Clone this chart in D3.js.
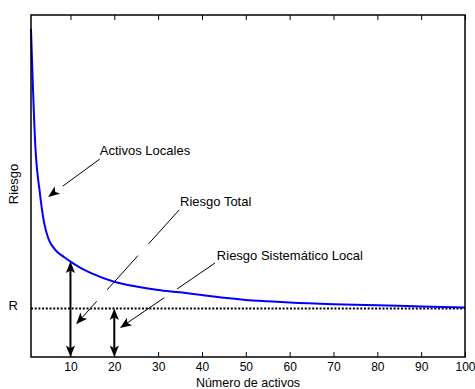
<!DOCTYPE html>
<html>
<head>
<meta charset="utf-8">
<script src="https://cdn.jsdelivr.net/npm/d3@7"></script>
<style>
  body { margin: 0; background: #fff; }
  svg { display: block; font-family: "Liberation Sans", Arial, sans-serif; }
</style>
</head>
<body>
<svg id="chart" width="475" height="389"></svg>
<script>
// number of assets and the risk
const nAssets = [1, 2, 3, 4, 5, 6, 7, 8, 9, 10, 12, 15, 20, 25, 30, 35, 40, 45, 50, 55, 60, 70, 80, 90, 100];
const riskVals = [95.9, 61.4, 48.2, 39.2, 34.5, 32.2, 30.7, 29.7, 28.8, 27.9, 26.3, 24.4, 22.0, 20.6, 19.6, 18.9, 18.1, 17.3, 16.7, 16.3, 15.95, 15.45, 15.1, 14.8, 14.5];
const systematicRisk = 14.2;
const xTicks = [10, 20, 30, 40, 50, 60, 70, 80, 90, 100];

// double arrows (n, top value)
const measureN = [10, 20];
const measureTop = [27.9, systematicRisk];

// annotations: label, label anchor (n, risk), leader start, arrow tip
const annLabels = ['Activos Locales', 'Riesgo Total', 'Riesgo Sistemático Local'];
const annText = [[16.7, 60.3], [35.0, 45.4], [43.4, 29.8]];
const annFrom = [[16.7, 57.9], [34.8, 43.0], [43.0, 27.5]];
const annTip = [[4.9, 46.8], [11.3, 9.6], [21.3, 8.5]];

const svg = d3.select('#chart'),
  margin = {top: 15, right: 10, bottom: 32, left: 31},
  width = +svg.attr('width') - margin.left - margin.right,
  height = +svg.attr('height') - margin.top - margin.bottom,
  g = svg.append('g').attr('transform', 'translate(' + margin.left + ',' + margin.top + ')');

const x = d3.scaleLinear().domain([1, 100]).range([0, width]);
const y = d3.scaleLinear().domain([0, 100]).range([height, 0]);

// dotted systematic risk line
g.append('path')
  .datum([1, 100])
  .attr('fill', 'none')
  .attr('stroke', '#000')
  .attr('stroke-width', 2)
  .attr('stroke-dasharray', '2,1.7')
  .attr('d', d3.line().x(d => x(d)).y(() => y(systematicRisk)));

// risk curve
const curveData = nAssets.map((n, i) => ({n: n, v: riskVals[i]}));
g.append('path')
  .datum(curveData)
  .attr('fill', 'none')
  .attr('stroke', '#0000ff')
  .attr('stroke-width', 2)
  .attr('d', d3.line().x(d => x(d.n)).y(d => y(d.v)).curve(d3.curveMonotoneX));

function arrowHead(tip, dir, L, W, N) {
  const px = -dir[1], py = dir[0];
  const p = [
    [tip[0], tip[1]],
    [tip[0] - L * dir[0] + W * px, tip[1] - L * dir[1] + W * py],
    [tip[0] - N * dir[0], tip[1] - N * dir[1]],
    [tip[0] - L * dir[0] - W * px, tip[1] - L * dir[1] - W * py]
  ];
  return 'M' + p.map(q => q.join(',')).join('L') + 'Z';
}

// double-headed measurement arrows
measureN.forEach((n, i) => {
  const xx = x(n), y0 = y(0), y1 = y(measureTop[i]);
  g.append('line')
    .attr('x1', xx).attr('x2', xx)
    .attr('y1', y1 + 6).attr('y2', y0 - 6)
    .attr('stroke', '#000').attr('stroke-width', 2);
  g.append('path').attr('d', arrowHead([xx, y1], [0, -1], 11.5, 4.6, 8.8)).attr('fill', '#000');
  g.append('path').attr('d', arrowHead([xx, y0], [0, 1], 11.5, 4.6, 8.8)).attr('fill', '#000');
});

// annotations
annLabels.forEach((label, i) => {
  const sx = x(annFrom[i][0]), sy = y(annFrom[i][1]);
  const tx = x(annTip[i][0]), ty = y(annTip[i][1]);
  const len = Math.hypot(tx - sx, ty - sy);
  const dir = [(tx - sx) / len, (ty - sy) / len];
  g.append('line')
    .attr('x1', sx).attr('y1', sy)
    .attr('x2', tx - dir[0] * 8).attr('y2', ty - dir[1] * 8)
    .attr('stroke', '#000').attr('stroke-width', 1)
    .attr('stroke-dasharray', '46,15.5');
  g.append('path').attr('d', arrowHead([tx, ty], dir, 11.5, 4.6, 8.8)).attr('fill', '#000');
  g.append('text')
    .attr('x', x(annText[i][0]))
    .attr('y', y(annText[i][1]))
    .attr('dy', '0.35em')
    .attr('font-size', 13)
    .attr('fill', '#000')
    .text(label);
});

// axes
const xAxisBottom = g.append('g')
  .attr('transform', 'translate(0,' + height + ')')
  .call(d3.axisBottom(x).tickValues(xTicks).tickSizeInner(-5).tickSizeOuter(0).tickPadding(5.5));
xAxisBottom.select('.domain').remove();
xAxisBottom.selectAll('text').attr('font-size', 12).attr('fill', '#000').attr('font-family', null);

const xAxisTop = g.append('g')
  .call(d3.axisTop(x).tickValues(xTicks).tickSizeInner(-5).tickSizeOuter(0).tickFormat(''));
xAxisTop.select('.domain').remove();

const yAxis = g.append('g')
  .call(d3.axisLeft(y).tickValues([systematicRisk]).tickSize(0).tickPadding(13).tickFormat(() => 'R'));
yAxis.select('.domain').remove();
yAxis.selectAll('text').attr('font-size', 13).attr('fill', '#000').attr('dy', '0.1em').attr('font-family', null);

g.append('rect')
  .attr('width', width).attr('height', height)
  .attr('fill', 'none').attr('stroke', '#000').attr('stroke-width', 1.5);

g.append('text')
  .attr('x', width / 2).attr('y', height + 29.5)
  .attr('text-anchor', 'middle').attr('font-size', 12.5)
  .text('Número de activos');

g.append('text')
  .attr('transform', 'translate(' + (18 - margin.left) + ',' + (height / 2 - 2) + ') rotate(-90)')
  .attr('text-anchor', 'middle').attr('font-size', 13)
  .text('Riesgo');
</script>
</body>
</html>
